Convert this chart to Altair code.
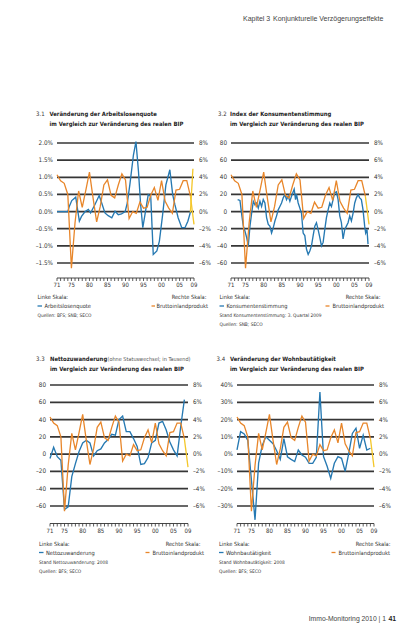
import altair as alt
import pandas as pd

# ---------------- data ----------------
BIP_YEARS = list(range(1971, 2009))
BIP = [4.3, 3.6, 3.3, 2.0, -6.6, -1.3, 2.4, 0.5, 2.5, 4.6, 1.6, -1.2, 0.6, 3.1, 3.7,
       1.9, 1.6, 3.1, 4.4, 3.7, -0.8, 0.0, -0.2, 1.1, 0.4, 0.5, 1.9, 2.8, 1.3, 3.6,
       1.2, 0.4, -0.2, 2.5, 2.6, 3.6, 3.6, 1.8]
BIP_FC_YEARS = [2008, 2009]
BIP_FC = [1.8, -1.5]

ALQ_YEARS = [1971.0, 1974.0, 1974.4, 1975.1, 1976.2, 1976.5, 1977.2, 1977.8, 1978.8, 1979.7,
             1980.3, 1981.5, 1982.7, 1983.4, 1984.3, 1985.2, 1986.2, 1987.1, 1988.0, 1988.9,
             1989.9, 1990.5, 1991.2, 1992.2, 1992.9, 1993.6, 1994.2, 1994.8, 1995.4, 1996.3,
             1997.0, 1997.7, 1998.7, 1999.4, 2000.3, 2001.2, 2002.3, 2003.1, 2003.7, 2004.6,
             2005.6, 2006.5, 2007.3, 2008.0]
ALQ = [0.0, 0.0, 0.15, 0.32, 0.42, 0.2, -0.28, -0.14, 0.0, 0.06,
       -0.04, 0.2, 0.47, 0.25, -0.04, -0.12, -0.18, 0.01, -0.09, -0.07,
       0.0, 0.25, 0.78, 1.65, 2.04, 1.17, 0.2, -0.47, -0.09, 0.49,
       0.44, -1.25, -1.15, -0.86, -0.09, 0.78, 1.22, 0.49, 0.2, -0.18,
       -0.47, -0.47, -0.28, -0.02]
ALQ_FC_YEARS = [2008.0, 2008.7]
ALQ_FC = [-0.02, 1.25]

KS_YEARS = [1972.83, 1973.47, 1973.93, 1974.39, 1974.85, 1975.30, 1975.76, 1976.22, 1976.68,
            1977.14, 1977.59, 1978.05, 1978.51, 1978.97, 1979.42, 1979.88, 1980.34, 1980.80,
            1981.26, 1981.71, 1982.17, 1982.63, 1983.09, 1983.55, 1984.00, 1984.46, 1984.92,
            1985.38, 1985.84, 1986.29, 1986.75, 1987.21, 1987.67, 1988.12, 1988.40, 1988.77,
            1989.04, 1989.50, 1989.96, 1990.41, 1990.87, 1991.33, 1991.79, 1992.25, 1992.70,
            1993.16, 1993.62, 1994.08, 1994.53, 1994.99, 1995.45, 1995.91, 1996.37, 1996.82,
            1997.28, 1997.74, 1998.20, 1998.66, 1999.11, 1999.57, 2000.03, 2000.49, 2000.95,
            2001.40, 2001.86, 2002.32, 2002.78, 2003.23, 2003.69, 2004.15, 2004.61, 2005.07,
            2005.52, 2005.98, 2006.44, 2006.90, 2007.36, 2007.81, 2008.09, 2008.45, 2008.73]
KS = [14, 13, -3, -17, -23, -30, -40, -17, -2,
      12, 8, 10, 4, 12, 6, 14, 10, -7,
      -15, -17, -25, -19, -11, -5, 2, 6, 10,
      16, 20, 14, 18, 12, 18, 23, 26, 14,
      20, 10, 4, -2, -25, -28, -44, -50, -46,
      -40, -28, -17, -13, -21, -30, -40, -36,
      -21, -7, 2, 10, 6, 14, 22, 23, 14, -5,
      -13, -32, -21, -17, -13, -5, -11, -2, 10,
      16, 20, 16, 14, 2, -17, -25, -21, -38]

NZ_YEARS = list(range(1971, 2009))
NZ = [-5, 8, -3, -7, -64, -61, -26, -11, 3, 13, 16, 13, -2, 4, 6, 13, 17, 23, 22, 40,
      44, 26, 26, 18, 9, -12, -11, -4, 13, 16, 36, 38, 28, 14, 5, -2, 32, 63]

WB_YEARS = list(range(1971, 2009))
WB = [2.4, 13, 11.7, 8, -15, -38, -5, 5, 10, 8, 6, 2, -3, 9, -1.5, -3, -4.3, 2.4, -0.5, -1.8,
      -5.3, -5.3, -1.8, 36, -1.4, -7, -14, -5.3, -1.4, -2.4, -10, 0.5, 12, 15, 3.4, 11, 2.4, 3.4]

TICK_YEARS = list(range(1971, 2010))
XLAB_YEARS = [1971, 1975, 1980, 1985, 1990, 1995, 2000, 2005, 2009]
XLAB = ["71", "75", "80", "85", "90", "95", "00", "05", "09"]

R_TICKS = [-6, -4, -2, 0, 2, 4, 6, 8]
R_LABELS = ["–6%", "–4%", "–2%", "0%", "2%", "4%", "6%", "8%"]
L1_TICKS = [-1.5, -1.0, -0.5, 0.0, 0.5, 1.0, 1.5, 2.0]
L1_LABELS = ["–1.5%", "–1.0%", "–0.5%", "0.0%", "0.5%", "1.0%", "1.5%", "2.0%"]
L2_TICKS = [-60, -40, -20, 0, 20, 40, 60, 80]
L2_LABELS = ["–60", "–40", "–20", "0", "20", "40", "60", "80"]
L4_TICKS = [-30, -20, -10, 0, 10, 20, 30, 40]
L4_LABELS = ["–30%", "–20%", "–10%", "0%", "10%", "20%", "30%", "40%"]

# ---------------- style ----------------
FONT = "Liberation Sans Narrow, DejaVu Sans Condensed, sans-serif"
FONT2 = "Liberation Sans, Arial, sans-serif"
BLUE = "#2679b2"
ORANGE = "#e8862a"
YELLOW = "#f4c72a"
GRID = "#363636"
TXT = "#333333"
W, H = 400, 620
T_SIZE = 5.9     # panel titles
L_SIZE = 5.7     # legend entries
S_SIZE = 4.8     # source notes

layers = []


def panel(x0, x1, yt, yb, ldom, lticks, llabels, blue_y, blue_v, blue_fc=None,
          axis_y=270, lab_y=277):
    xs = alt.Scale(domain=[1971, 2009], range=[x0, x1], nice=False, zero=False)
    ls = alt.Scale(domain=ldom, range=[yb, yt], nice=False, zero=False)
    rs = alt.Scale(domain=[-6, 8], range=[yb, yt], nice=False, zero=False)
    out = []
    g = pd.DataFrame({"v": lticks, "lab": llabels})
    out.append(alt.Chart(g).mark_rule(color=GRID, strokeWidth=1.7).encode(
        x=alt.value(x0), x2=alt.value(x1), y=alt.Y("v:Q", scale=ls, axis=None)))
    out.append(alt.Chart(g).mark_text(align="right", baseline="middle", font=FONT,
                                      fontSize=6.3, color=TXT).encode(
        x=alt.value(x0 - 4), y=alt.Y("v:Q", scale=ls, axis=None), text="lab:N"))
    r = pd.DataFrame({"v": R_TICKS, "lab": R_LABELS})
    out.append(alt.Chart(r).mark_text(align="left", baseline="middle", font=FONT,
                                      fontSize=6.3, color=TXT).encode(
        x=alt.value(x1 + 5), y=alt.Y("v:Q", scale=rs, axis=None), text="lab:N"))
    # series
    b = pd.DataFrame({"year": blue_y, "val": blue_v})
    out.append(alt.Chart(b).mark_line(color=BLUE, strokeWidth=1.35).encode(
        x=alt.X("year:Q", scale=xs, axis=None), y=alt.Y("val:Q", scale=ls, axis=None)))
    if blue_fc is not None:
        bf = pd.DataFrame({"year": blue_fc[0], "val": blue_fc[1]})
        out.append(alt.Chart(bf).mark_line(color=YELLOW, strokeWidth=1.3).encode(
            x=alt.X("year:Q", scale=xs, axis=None), y=alt.Y("val:Q", scale=ls, axis=None)))
    o = pd.DataFrame({"year": BIP_YEARS, "val": BIP})
    out.append(alt.Chart(o).mark_line(color=ORANGE, strokeWidth=1.3).encode(
        x=alt.X("year:Q", scale=xs, axis=None), y=alt.Y("val:Q", scale=rs, axis=None)))
    of = pd.DataFrame({"year": BIP_FC_YEARS, "val": BIP_FC})
    out.append(alt.Chart(of).mark_line(color=YELLOW, strokeWidth=1.3).encode(
        x=alt.X("year:Q", scale=xs, axis=None), y=alt.Y("val:Q", scale=rs, axis=None)))
    # x axis comb
    t = pd.DataFrame({"year": TICK_YEARS})
    out.append(alt.Chart(t).mark_rule(color=TXT, strokeWidth=0.8).encode(
        x=alt.X("year:Q", scale=xs, axis=None), y=alt.value(axis_y), y2=alt.value(axis_y + 3)))
    d = pd.DataFrame({"a": [1971], "b": [2009]})
    out.append(alt.Chart(d).mark_rule(color=TXT, strokeWidth=0.9).encode(
        x=alt.X("a:Q", scale=xs, axis=None), x2="b:Q", y=alt.value(axis_y)))
    xl = pd.DataFrame({"year": XLAB_YEARS, "lab": XLAB})
    out.append(alt.Chart(xl).mark_text(align="center", baseline="middle", font=FONT,
                                       fontSize=6.0, color=TXT).encode(
        x=alt.X("year:Q", scale=xs, axis=None), y=alt.value(lab_y), text="lab:N"))
    return out


layers += panel(49, 186, 135, 255, [-1.5, 2.0], L1_TICKS, L1_LABELS, ALQ_YEARS, ALQ,
                blue_fc=(ALQ_FC_YEARS, ALQ_FC))
layers += panel(223, 361, 135, 255, [-60, 80], L2_TICKS, L2_LABELS, KS_YEARS, KS)
layers += panel(42, 180, 377, 498, [-60, 80], L2_TICKS, L2_LABELS, NZ_YEARS, NZ,
                axis_y=515.5, lab_y=522.7)
layers += panel(229, 366, 377, 498, [-30, 40], L4_TICKS, L4_LABELS, WB_YEARS, WB,
                axis_y=515.5, lab_y=522.7)

# ---------------- annotation texts ----------------
texts = [
    # (x, y, text, size, weight, color, align, font)
    (235, 11, "Kapitel 3", 7, "normal", "#444444", "left", FONT2),
    (265, 11, "Konjunkturelle Verzögerungseffekte", 7, "normal", "#444444", "left", FONT2),
    (28, 106, "3.1", 6, "normal", TXT, "left", FONT),
    (41.5, 106, "Veränderung der Arbeitslosenquote", T_SIZE, "bold", "#222222", "left", FONT),
    (41.5, 116, "im Vergleich zur Veränderung des realen BIP", T_SIZE, "bold", "#222222", "left", FONT),
    (210, 106, "3.2", 6, "normal", TXT, "left", FONT),
    (222, 106, "Index der Konsumentenstimmung", T_SIZE, "bold", "#222222", "left", FONT),
    (222, 116, "im Vergleich zur Veränderung des realen BIP", T_SIZE, "bold", "#222222", "left", FONT),
    (28, 351, "3.3", 6, "normal", TXT, "left", FONT),
    (42, 351, "Nettozuwanderung", T_SIZE, "bold", "#222222", "left", FONT),
    (99.5, 351, "(ohne Statuswechsel; in Tausend)", 5.5, "normal", "#555555", "left", FONT),
    (42, 361, "im Vergleich zur Veränderung des realen BIP", T_SIZE, "bold", "#222222", "left", FONT),
    (208.5, 351, "3.4", 6, "normal", TXT, "left", FONT),
    (222, 351, "Veränderung der Wohnbautätigkeit", T_SIZE, "bold", "#222222", "left", FONT),
    (222, 361, "im Vergleich zur Veränderung des realen BIP", T_SIZE, "bold", "#222222", "left", FONT),
    # legends top-left
    (29.5, 289, "Linke Skala:", L_SIZE, "normal", TXT, "left", FONT),
    (198.5, 289, "Rechte Skala:", L_SIZE, "normal", TXT, "right", FONT),
    (36.5, 298, "Arbeitslosenquote", L_SIZE, "normal", TXT, "left", FONT),
    (148.5, 298, "Bruttoinlandprodukt", L_SIZE, "normal", TXT, "left", FONT),
    (29.5, 307.5, "Quellen: BFS; SNB; SECO", S_SIZE, "normal", TXT, "left", FONT),
    # legends top-right
    (211.5, 289, "Linke Skala:", L_SIZE, "normal", TXT, "left", FONT),
    (372.5, 289, "Rechte Skala:", L_SIZE, "normal", TXT, "right", FONT),
    (218.5, 298, "Konsumentenstimmung", L_SIZE, "normal", TXT, "left", FONT),
    (324.5, 298, "Bruttoinlandprodukt", L_SIZE, "normal", TXT, "left", FONT),
    (211.5, 307.5, "Stand Konsumentenstimmung: 3. Quartal 2009", S_SIZE, "normal", TXT, "left", FONT),
    (211.5, 316.5, "Quellen: SNB; SECO", S_SIZE, "normal", TXT, "left", FONT),
    # legends bottom-left
    (31, 535.5, "Linke Skala:", L_SIZE, "normal", TXT, "left", FONT),
    (192.5, 535.5, "Rechte Skala:", L_SIZE, "normal", TXT, "right", FONT),
    (38, 544.5, "Nettozuwanderung", L_SIZE, "normal", TXT, "left", FONT),
    (144.5, 544.5, "Bruttoinlandprodukt", L_SIZE, "normal", TXT, "left", FONT),
    (31, 554.5, "Stand Nettozuwanderung: 2008", S_SIZE, "normal", TXT, "left", FONT),
    (31, 563.5, "Quellen: BFS; SECO", S_SIZE, "normal", TXT, "left", FONT),
    # legends bottom-right
    (211, 535.5, "Linke Skala:", L_SIZE, "normal", TXT, "left", FONT),
    (382.5, 535.5, "Rechte Skala:", L_SIZE, "normal", TXT, "right", FONT),
    (218, 544.5, "Wohnbautätigkeit", L_SIZE, "normal", TXT, "left", FONT),
    (330.5, 544.5, "Bruttoinlandprodukt", L_SIZE, "normal", TXT, "left", FONT),
    (211, 554.5, "Stand Wohnbautätigkeit: 2008", S_SIZE, "normal", TXT, "left", FONT),
    (211, 563.5, "Quellen: BFS; SECO", S_SIZE, "normal", TXT, "left", FONT),
    # footer
    (378, 611, "Immo-Monitoring 2010 | 1", 6.8, "normal", "#444444", "right", FONT2),
    (388, 611, "41", 6.8, "bold", "#222222", "right", FONT2),
]
tdf = pd.DataFrame(texts, columns=["x", "y", "text", "size", "weight", "color", "align", "font"])
for (size, weight, color, align, font), grp in tdf.groupby(["size", "weight", "color", "align", "font"]):
    layers.append(alt.Chart(grp[["x", "y", "text"]].reset_index(drop=True)).mark_text(
        align=align, baseline="middle", fontSize=float(size), fontWeight=weight,
        color=color, font=font).encode(
        x=alt.X("x:Q", scale=None, axis=None), y=alt.Y("y:Q", scale=None, axis=None),
        text="text:N"))

# legend swatches
blue_sw = pd.DataFrame({"x": [29.5, 211.5, 31, 211], "x2": [34.0, 216.0, 35.5, 215.5],
                        "y": [298, 298, 544.5, 544.5]})
orange_sw = pd.DataFrame({"x": [143.5, 317.5, 137.5, 323.5], "x2": [147.0, 321.5, 141.5, 327.5],
                          "y": [298, 298, 544.5, 544.5]})
for df, col in [(blue_sw, BLUE), (orange_sw, ORANGE)]:
    layers.append(alt.Chart(df).mark_rule(color=col, strokeWidth=1.3).encode(
        x=alt.X("x:Q", scale=None, axis=None), x2="x2:Q",
        y=alt.Y("y:Q", scale=None, axis=None)))

chart = alt.layer(*layers).resolve_scale(x="independent", y="independent").properties(
    width=W, height=H, autosize=alt.AutoSizeParams(type="none"), padding=0,
    background="white"
).configure_view(stroke=None)

chart.save("out.html", embed_options={"renderer": "svg", "actions": False})
